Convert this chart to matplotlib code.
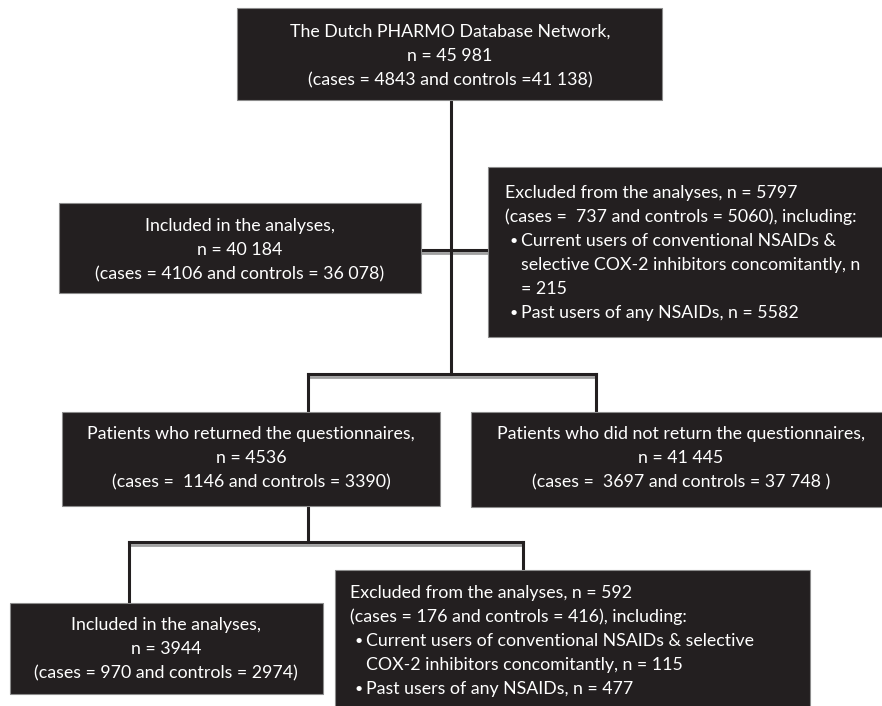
import matplotlib
matplotlib.use('Agg')
import matplotlib.pyplot as plt
from matplotlib.patches import Rectangle

# box texts, one list of lines per box
top_lines = ['The Dutch PHARMO Database Network,', 'n = 45 981',
             '(cases = 4843 and controls =41 138)']
incl1_lines = ['Included in the analyses,', 'n = 40 184',
               '(cases = 4106 and controls = 36 078)']
excl1_head = ['Excluded from the analyses, n = 5797',
              '(cases =  737 and controls = 5060), including:']
excl1_bullets = [['Current users of conventional NSAIDs &',
                  'selective COX-2 inhibitors concomitantly, n',
                  '= 215'],
                 ['Past users of any NSAIDs, n = 5582']]
ret_lines = ['Patients who returned the questionnaires,', 'n = 4536',
             '(cases =  1146 and controls = 3390)']
noret_lines = ['Patients who did not return the questionnaires,', 'n = 41 445',
               '(cases =  3697 and controls = 37 748 )']
incl2_lines = ['Included in the analyses,', 'n = 3944',
               '(cases = 970 and controls = 2974)']
excl2_head = ['Excluded from the analyses, n = 592',
              '(cases = 176 and controls = 416), including:']
excl2_bullets = [['Current users of conventional NSAIDs & selective',
                  'COX-2 inhibitors concomitantly, n = 115'],
                 ['Past users of any NSAIDs, n = 477']]

BOX = '#231f20'
EDGE = '#8c8c8c'
LINE = '#231f20'
SHADOW = '#a0a0a0'
FS = 12.8
LH = 24  # line height in px
plt.rcParams['font.family'] = ['Lato', 'DejaVu Sans']

fig = plt.figure(figsize=(8.82, 7.06), dpi=100)
ax = fig.add_axes([0, 0, 1, 1])
ax.set_xlim(0, 882)
ax.set_ylim(706, 0)
ax.axis('off')


def box(x0, y0, x1, y1):
    ax.add_patch(Rectangle((x0, y0), x1 - x0, y1 - y0, facecolor=BOX,
                           edgecolor=EDGE, lw=0.8, zorder=3))


def centered(lines, cx, y_first):
    for i, s in enumerate(lines):
        ax.text(cx, y_first + i * LH, s, color='white', fontsize=FS,
                ha='center', va='center', zorder=4)


def bulleted(head, bullets, x, y_first, indent=16):
    y = y_first
    for s in head:
        ax.text(x, y, s, color='white', fontsize=FS, ha='left', va='center', zorder=4)
        y += LH
    for item in bullets:
        ax.text(x + 9, y, '\u2022', color='white', fontsize=FS * 0.8,
                ha='center', va='center', zorder=4)
        for s in item:
            ax.text(x + indent, y, s, color='white', fontsize=FS,
                    ha='left', va='center', zorder=4)
            y += LH


def seg(xs, ys, shadow=False):
    if shadow:
        ax.plot(xs, [v + 3 for v in ys], color=SHADOW, lw=2.0,
                solid_capstyle='butt', zorder=1)
    ax.plot(xs, ys, color=LINE, lw=2.2, solid_capstyle='projecting', zorder=2)


# connectors
seg([451, 451], [100, 374])
seg([421, 488], [250, 250], shadow=True)
seg([308, 596], [374, 374], shadow=True)
seg([308, 308], [374, 412])
seg([596, 596], [374, 412])
seg([308, 308], [506, 542])
seg([129, 523], [542, 542], shadow=True)
seg([129, 129], [542, 603])
seg([523, 523], [542, 570])

# boxes
box(237, 8, 662, 100)
centered(top_lines, 450, 32)

box(59, 203, 421, 293)
centered(incl1_lines, 240, 226)

box(488, 167, 884, 337)
bulleted(excl1_head, excl1_bullets, 505, 193)

box(62, 412, 440, 506)
centered(ret_lines, 251, 434)

box(471, 412, 884, 507)
centered(noret_lines, 681, 434)

box(10, 603, 323, 694)
centered(incl2_lines, 166, 625)

box(335, 570, 810, 708)
bulleted(excl2_head, excl2_bullets, 350, 593)

fig.savefig('out.png', dpi=100)
